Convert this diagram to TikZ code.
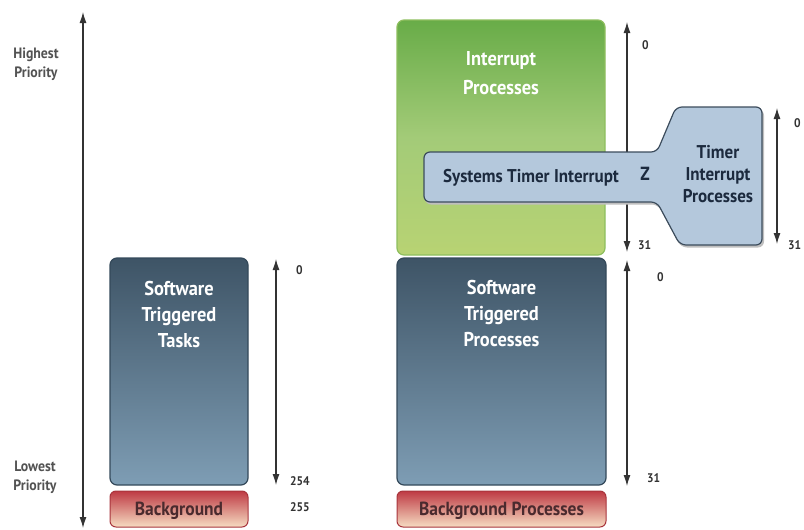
\documentclass[tikz,border=0pt]{standalone}
\usepackage{fontspec}
\setmainfont{PT Sans}[FakeStretch=0.92]
\usetikzlibrary{arrows.meta}
\definecolor{bluetop}{HTML}{3E5466}
\definecolor{bluebot}{HTML}{7E9DB4}
\definecolor{blueedge}{HTML}{34495A}
\definecolor{greentop}{HTML}{68AC48}
\definecolor{greenmid}{HTML}{A3CB78}
\definecolor{greenbot}{HTML}{B8D373}
\definecolor{greenedge}{HTML}{8EBE5E}
\definecolor{redtop}{HTML}{BE3A44}
\definecolor{redbot}{HTML}{F6DCC2}
\definecolor{rededge}{HTML}{A8343C}
\definecolor{timerfill}{HTML}{B4C8DC}
\definecolor{timeredge}{HTML}{3C4C5C}
\definecolor{darktext}{HTML}{1C2A3E}
\definecolor{bgtext}{HTML}{4A2A2E}
\definecolor{axis}{HTML}{333333}
\begin{document}
\begin{tikzpicture}[x=1pt,y=-1pt,
  bluebox/.style={draw=blueedge,line width=1.2pt,rounded corners=7pt,top color=bluetop,bottom color=bluebot,inner sep=0pt},
  greenbox/.style={draw=greenedge,line width=1.2pt,rounded corners=7pt,top color=greentop,bottom color=greenbot,middle color=greenmid,inner sep=0pt},
  redbox/.style={draw=rededge,line width=1pt,rounded corners=6pt,top color=redtop,bottom color=redbot,inner sep=0pt},
  boxtext/.style={text=white,font=\bfseries\fontsize{20}{26}\selectfont,align=center,inner sep=0pt},
  bgtextst/.style={text=bgtext,font=\bfseries\fontsize{19}{22}\selectfont,inner sep=0pt},
  timertext/.style={text=darktext,font=\bfseries\fontsize{19}{22}\selectfont,align=center,inner sep=0pt},
  smalltext/.style={text=axis!85,font=\bfseries\fontsize{15}{19}\selectfont,align=center,inner sep=0pt},
  numtext/.style={text=axis,font=\bfseries\fontsize{12.5}{15}\selectfont,inner sep=0pt,anchor=west},
  axisarrow/.style={draw=axis,line width=1.2pt,{Latex[length=11pt,width=7pt]}-{Latex[length=11pt,width=7pt]}},
]
\useasboundingbox (0,0) rectangle (804,530);

% left priority axis
\coordinate (ptop) at (83,12);
\coordinate (pbot) at (83,528);
\draw[axisarrow] (ptop) -- (pbot);
\node[smalltext] (hp) at (36,64) {Highest\\Priority};
\node[smalltext] (lp) at (35,477) {Lowest\\Priority};

% left column
\node[bluebox,minimum width=138pt,minimum height=227pt] (stt) at (179,371.5) {};
\node[boxtext,anchor=north] (stttxt) at (179,281) {Software\\Triggered\\Tasks};
\node[redbox,minimum width=138pt,minimum height=36pt] (bg) at (179,509) {};
\node[bgtextst] (bgtxt) at (179,511) {Background};

\coordinate (a1t) at (276,259);
\coordinate (a1b) at (276,485);
\draw[axisarrow] (a1t) -- (a1b);
\node[numtext] (n0a) at (296,270) {0};
\node[numtext] (n254) at (290,481) {254};
\node[numtext] (n255) at (290,507) {255};

% right column
\node[greenbox,minimum width=208pt,minimum height=235pt] (ip) at (501,137.5) {};
\node[boxtext,anchor=north,font=\bfseries\fontsize{20}{29}\selectfont] (iptxt) at (501,51) {Interrupt\\Processes};
\node[bluebox,minimum width=209pt,minimum height=227pt] (stp) at (501.5,371.5) {};
\node[boxtext,anchor=north] (stptxt) at (501.5,280) {Software\\Triggered\\Processes};
\node[redbox,minimum width=209pt,minimum height=36pt] (bgp) at (501.5,509) {};
\node[bgtextst] (bgptxt) at (501.5,511) {Background Processes};

\coordinate (a2t) at (627,22);
\coordinate (a2b) at (627,252);
\draw[axisarrow] (a2t) -- (a2b);
\node[numtext] (n0b) at (642,45) {0};
\node[numtext] (n31a) at (638,245) {31};
\coordinate (a3t) at (627,260);
\coordinate (a3b) at (627,486);
\draw[axisarrow] (a3t) -- (a3b);
\node[numtext] (n0c) at (657,277) {0};
\node[numtext] (n31b) at (647,478) {31};

% timer interrupt shape
\fill[black!25,rounded corners=6pt] (425,154.5) -- (658,154.5) -- (677,109.5) -- (764,109.5) -- (764,247.5) -- (681,247.5) -- (658,204.5) -- (425,204.5) -- cycle;
\draw[fill=timerfill,draw=timeredge,line width=1.2pt,rounded corners=6pt] (424,152) -- (657,152) -- (676,107) -- (762,107) -- (762,245) -- (680,245) -- (657,202) -- (424,202) -- cycle;
\node[timertext,font=\bfseries\fontsize{18.5}{22}\selectfont] (sti) at (531,178) {Systems Timer Interrupt};
\node[timertext] (z) at (645,174) {Z};
\node[timertext,font=\bfseries\fontsize{18.5}{22}\selectfont] (tip) at (718,174) {Timer\\Interrupt\\Processes};

\coordinate (a4t) at (777,108);
\coordinate (a4b) at (777,244);
\draw[axisarrow] (a4t) -- (a4b);
\node[numtext] (n0d) at (794,123) {0};
\node[numtext] (n31c) at (788,245) {31};
\end{tikzpicture}
\end{document}
